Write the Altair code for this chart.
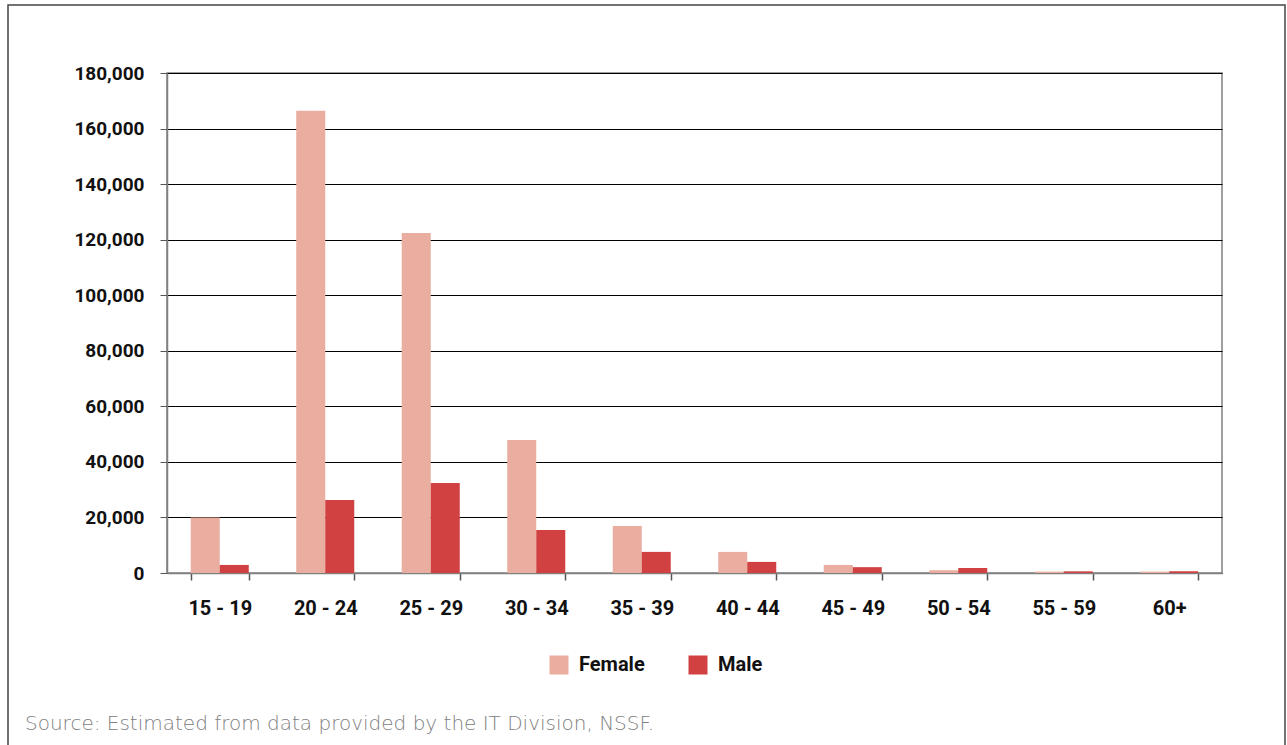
import altair as alt
import pandas as pd

age_groups = ["15 - 19", "20 - 24", "25 - 29", "30 - 34", "35 - 39",
              "40 - 44", "45 - 49", "50 - 54", "55 - 59", "60+"]
female = [20000, 166400, 122400, 47900, 16900, 7600, 2900, 1000, 500, 500]
male = [2900, 26300, 32400, 15500, 7600, 4000, 2100, 1800, 600, 600]
sexes = ["Female", "Male"]
colors = ["#E9AEA0", "#D14142"]
y_ticks = [0, 20000, 40000, 60000, 80000, 100000, 120000, 140000, 160000, 180000]
source_text = "Source: Estimated from data provided by the IT Division, NSSF."

rows = []
for g, f, m in zip(age_groups, female, male):
    rows.append({"age": g, "sex": "Female", "value": f})
    rows.append({"age": g, "sex": "Male", "value": m})
df = pd.DataFrame(rows)

FONT = "Roboto"

frame = alt.Chart(pd.DataFrame({"a": [1]})).mark_rect(
    fill="white", fillOpacity=0, stroke="#444444", strokeWidth=1.5
).encode(
    x=alt.value(-159), x2=alt.value(1118),
    y=alt.value(-68), y2=alt.value(700)
)

bars = alt.Chart(df).mark_bar().encode(
    x=alt.X("age:N", sort=age_groups, title=None,
            scale=alt.Scale(paddingInner=0.45, paddingOuter=0.225),
            axis=alt.Axis(labelAngle=0, tickBand="extent", tickSize=7,
                          labelPadding=18, labelFont=FONT, labelFontSize=20,
                          labelFontWeight="bold", labelColor="#111111",
                          domainColor="#808080", domainWidth=1.5,
                          tickColor="#555555", tickWidth=1.5, grid=False)),
    xOffset=alt.XOffset("sex:N", sort=sexes, scale=alt.Scale(paddingInner=0, paddingOuter=0)),
    y=alt.Y("value:Q", title=None,
            scale=alt.Scale(domain=[0, 180000], nice=False),
            axis=alt.Axis(values=y_ticks, format=",d", tickSize=7,
                          labelPadding=16, labelFont=FONT, labelFontSize=19,
                          labelFontWeight="bold", labelColor="#111111",
                          domainColor="#808080", domainWidth=1.5,
                          tickColor="#555555", tickWidth=1,
                          grid=True, gridColor="#000000", gridWidth=1)),
    color=alt.Color("sex:N", sort=sexes,
                    scale=alt.Scale(domain=sexes, range=colors),
                    legend=alt.Legend(title=None, orient="none", direction="horizontal",
                                      legendX=382, legendY=582,
                                      symbolType="square", symbolSize=361,
                                      symbolStrokeWidth=0, labelOffset=10,
                                      columnPadding=43,
                                      labelFont=FONT, labelFontSize=20,
                                      labelFontWeight="bold", labelColor="#111111")),
)

source = alt.Chart(pd.DataFrame({"t": [source_text]})).mark_text(
    align="left", baseline="middle", font="DejaVu Sans", fontSize=20,
    fontWeight=200, color="#808080"
).encode(
    x=alt.value(-142), y=alt.value(651), text="t:N"
)

chart = alt.layer(frame, bars, source).properties(
    width=1055, height=500,
    autosize=alt.AutoSizeParams(type="none"),
    padding={"left": 167, "top": 73, "right": 65, "bottom": 172},
    background="white",
).configure_view(stroke="#808080", strokeWidth=1.5)

chart.save("out.html", embed_options={"renderer": "svg", "actions": False})
